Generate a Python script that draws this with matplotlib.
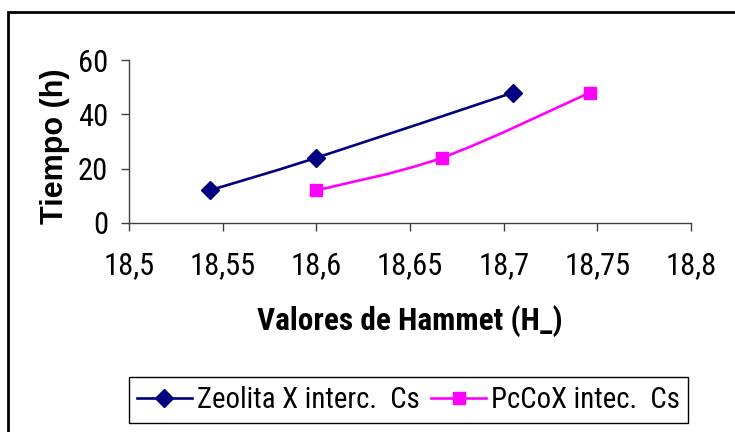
import numpy as np
import matplotlib
matplotlib.use("Agg")
import matplotlib.pyplot as plt
from matplotlib import font_manager
from matplotlib.font_manager import FontProperties
from matplotlib.path import Path
from matplotlib.patches import PathPatch, Rectangle
from matplotlib.lines import Line2D

# Hammett acidity values and time for both catalysts
zeolita_h = [18.543, 18.6, 18.705]
zeolita_t = [12, 24, 48]
pccox_h = [18.6, 18.667, 18.746]
pccox_t = [12, 24, 48]

zeolita_label = "Zeolita X interc.  Cs"
pccox_label = "PcCoX intec.  Cs"

x_ticks = [18.5, 18.55, 18.6, 18.65, 18.7, 18.75, 18.8]
x_tick_labels = ["18,5", "18,55", "18,6", "18,65", "18,7", "18,75", "18,8"]
y_ticks = [0, 20, 40, 60]

navy = "#000080"
magenta = "#FF00FF"
axis_grey = "#404040"


def find_face(bold):
    # narrow / condensed sans face, falls back to None
    faces = font_manager.fontManager.ttflist
    for key in ["Liberation Sans Narrow", "Roboto Condensed", "Noto Sans",
                "Open Sans", "DejaVu Sans"]:
        for f in faces:
            narrowish = ("Narrow" in f.name or "Condensed" in f.name
                         or f.stretch in ("condensed", "semi-condensed",
                                          "extra-condensed", 500, 300, 400))
            w_ok = (f.weight in (700, "bold")) if bold else (f.weight in (400, "normal", "regular"))
            if f.name.startswith(key.split()[0]) and key.split()[-1] in f.name + " " + f.fname \
                    and narrowish and w_ok and "Italic" not in f.fname:
                return FontProperties(fname=f.fname)
    return None


reg_face = find_face(False)
bold_face = find_face(True)
if reg_face is None:
    reg_face = FontProperties(family="Liberation Sans")
    fs, fs_leg = 18, 17
else:
    fs, fs_leg = 22, 20.7
if bold_face is None:
    bold_face = FontProperties(family="Liberation Sans", weight="bold")
    fs_bold = 18.5
else:
    fs_bold = 22.5

W, H = 735, 432
fig = plt.figure(figsize=(W / 100, H / 100), dpi=100)
ax = fig.add_axes([129 / W, 1 - 223 / H, (691 - 129) / W, (223 - 60) / H])

ax.set_xlim(18.5, 18.8)
ax.set_ylim(0, 60)
ax.set_xticks(x_ticks)
ax.set_xticklabels(x_tick_labels)
ax.set_yticks(y_ticks)
for lab in ax.get_xticklabels() + ax.get_yticklabels():
    lab.set_fontproperties(reg_face)
    lab.set_fontsize(fs)

for side in ["top", "right"]:
    ax.spines[side].set_visible(False)
for side in ["left", "bottom"]:
    ax.spines[side].set_color(axis_grey)
    ax.spines[side].set_linewidth(1)
ax.tick_params(axis="x", direction="out", length=6, width=1, color=axis_grey, pad=14)
ax.tick_params(axis="y", direction="out", length=6, width=1, color=axis_grey, pad=9)


def smooth_path(xs, ys):
    # Bezier curve through the points, control points from the neighbours
    pts = ax.transData.transform(np.column_stack([xs, ys]))
    verts = [pts[0]]
    codes = [Path.MOVETO]
    n = len(pts)
    for i in range(n - 1):
        p_prev = pts[max(i - 1, 0)]
        p0 = pts[i]
        p1 = pts[i + 1]
        p_next = pts[min(i + 2, n - 1)]
        c1 = p0 + (p1 - p_prev) / 6
        c2 = p1 - (p_next - p0) / 6
        verts += [c1, c2, p1]
        codes += [Path.CURVE4] * 3
    return Path(verts, codes)


for xs, ys, col, mk, ms in [(zeolita_h, zeolita_t, navy, "D", 9.5),
                            (pccox_h, pccox_t, magenta, "s", 8.5)]:
    patch = PathPatch(smooth_path(xs, ys), facecolor="none", edgecolor=col,
                      linewidth=1.9, transform=None, zorder=3)
    ax.add_artist(patch)
    ax.plot(xs, ys, linestyle="none", marker=mk, markersize=ms,
            color=col, zorder=4)

fig.text(55 / W, 1 - 146 / H, "Tiempo (h)", rotation=90, ha="center", va="center",
         fontfamily="Liberation Sans", fontweight="bold", fontsize=22)
xl = fig.text(410 / W, 1 - 321 / H, "Valores de Hammet (H_)", ha="center", va="center",
              fontproperties=bold_face)
xl.set_fontsize(fs_bold)

handles = [Line2D([], [], color=navy, lw=1.9, marker="D", markersize=9.5),
           Line2D([], [], color=magenta, lw=1.9, marker="s", markersize=8.5)]
leg_prop = reg_face.copy()
leg_prop.set_size(fs_leg)
leg = fig.legend(handles, [zeolita_label, pccox_label], ncol=2,
                 loc="center", bbox_to_anchor=(408.5 / W, 1 - 400 / H),
                 prop=leg_prop,
                 frameon=True, fancybox=False, framealpha=1, edgecolor="black",
                 handlelength=1.9, handletextpad=0.17, columnspacing=0.42,
                 borderpad=0.3, borderaxespad=0)
leg.get_frame().set_linewidth(1)

# outer chart border
fig.patches.append(Rectangle((8 / W, -0.2), 1.2, 1.2 - 12 / H,
                             transform=fig.transFigure, fill=False,
                             edgecolor="black", linewidth=2, clip_on=False))

fig.savefig("out.png", dpi=100)
